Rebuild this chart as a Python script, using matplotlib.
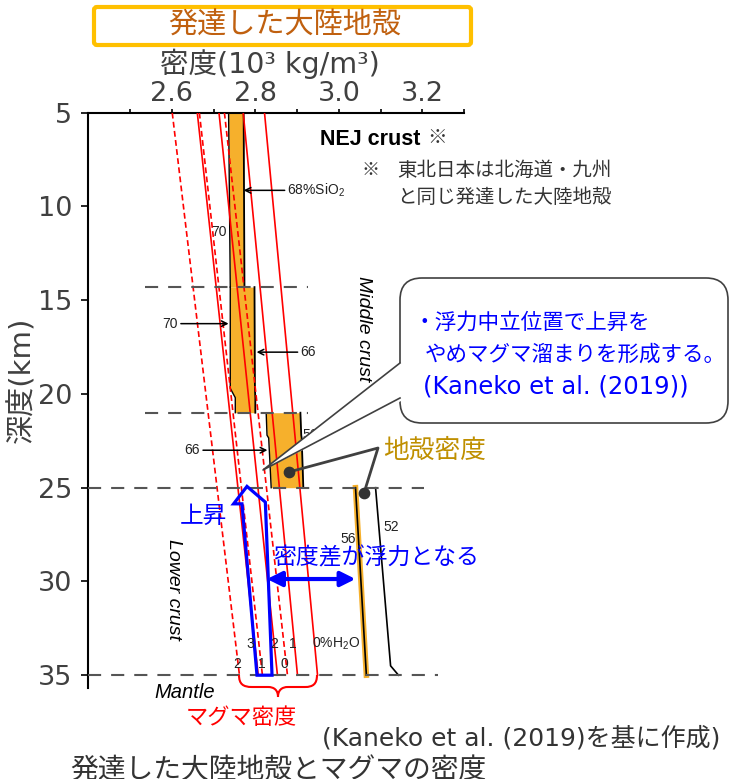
import numpy as np
import matplotlib.pyplot as plt
from matplotlib.patches import Polygon, FancyBboxPatch, PathPatch
from matplotlib.path import Path

JP = 'Noto Sans CJK JP'
ARIAL = 'Liberation Sans'
plt.rcParams['font.family'] = ['DejaVu Sans', JP]
plt.rcParams['mathtext.fontset'] = 'custom'
plt.rcParams['mathtext.rm'] = ARIAL
plt.rcParams['mathtext.it'] = ARIAL + ':italic'

GRAY = '#404040'
RED = '#FF0000'
ORANGE = '#F6B02C'
BLUE = '#0000FF'
TICK_FONTSIZE = 19.5
SMALL = 10

# magma density (10^3 kg/m^3) at 5 km and 35 km
magma_depth = [5, 35]
solid_labels = ['3', '2', '1', '0%H$_2$O']
solid_top = [2.661, 2.713, 2.771, 2.822]
solid_bottom = [2.807, 2.853, 2.901, 2.949]
dashed_labels = ['2', '1', '0']
dashed_top = [2.601, 2.666, 2.726]
dashed_bottom = [2.762, 2.817, 2.877]

# crust density profile
upper_depth = [5.0, 14.3]
upper_left = [2.736, 2.740]
upper_right = [2.772, 2.774]
mid1_depth = [14.3, 19.7, 20.2, 21.0]
mid1_left = [2.740, 2.740, 2.752, 2.752]
mid1_right = [2.798, 2.799, 2.800, 2.800]
mid2_depth = [21.0, 22.2, 22.35, 25.0]
mid2_left = [2.826, 2.828, 2.832, 2.838]
mid2_right = [2.908, 2.910, 2.911, 2.915]
lower_depth = [25.0, 35.0]
lower_density = [3.040, 3.066]
basalt_depth = [25.0, 34.5, 35.0]
basalt_density = [3.088, 3.124, 3.143]

# layer boundaries
boundary_depth = [14.3, 21.0, 25.0, 35.0]
boundary_x0 = [2.536, 2.536, 2.40, 2.40]
boundary_x1 = [2.925, 2.925, 3.203, 3.237]

fig = plt.figure(figsize=(7.30, 7.79), dpi=100)
ax = fig.add_axes([0.121, 0.1164, 0.5147, 0.7389])
ax.set_xlim(2.4, 3.3)
ax.set_ylim(35.7, 5)

# crust columns
for depth, left, right in [(upper_depth, upper_left, upper_right),
                           (mid1_depth, mid1_left, mid1_right),
                           (mid2_depth, mid2_left, mid2_right)]:
    ax.fill_betweenx(depth, left, right, color=ORANGE, lw=0, zorder=1)
    ax.plot(left, depth, color='k', lw=1.0, zorder=2)
    ax.plot(right, depth, color='k', lw=1.3, zorder=2)
ax.plot(lower_density, lower_depth, color=ORANGE, lw=4, zorder=1)
ax.plot(lower_density, lower_depth, color='k', lw=1.2, zorder=2)
ax.plot(basalt_density, basalt_depth, color='k', lw=1.2, zorder=2)

# magma lines
for top, bottom in zip(solid_top, solid_bottom):
    ax.plot([top, bottom], magma_depth, color=RED, lw=1.2, zorder=3)
for top, bottom in zip(dashed_top, dashed_bottom):
    ax.plot([top, bottom], magma_depth, color=RED, lw=1.2, ls=(0, (3.5, 2)), zorder=3)

for d, x0, x1 in zip(boundary_depth, boundary_x0, boundary_x1):
    ax.plot([x0, x1], [d, d], color='#555555', lw=1.5, ls=(0, (6.3, 4.8)),
            zorder=4, clip_on=False)

# labels inside the chart
arrow = dict(arrowstyle='->', color='k', lw=1.1, shrinkA=0, shrinkB=0)
ax.annotate('68%SiO$_2$', xy=(2.772, 9.14), xytext=(2.877, 9.14), ha='left', va='center',
            fontsize=SMALL, family=ARIAL, color='#222222', arrowprops=arrow, zorder=6)
ax.text(2.731, 11.37, '70', ha='right', va='center', fontsize=SMALL, family=ARIAL, color='#222222')
ax.annotate('70', xy=(2.736, 16.25), xytext=(2.615, 16.25), ha='right', va='center',
            fontsize=SMALL, family=ARIAL, color='#222222', arrowprops=arrow)
ax.annotate('66', xy=(2.803, 17.77), xytext=(2.908, 17.77), ha='left', va='center',
            fontsize=SMALL, family=ARIAL, color='#222222', arrowprops=arrow)
ax.annotate('66', xy=(2.829, 23.0), xytext=(2.668, 23.0), ha='right', va='center',
            fontsize=SMALL, family=ARIAL, color='#222222', arrowprops=arrow)
ax.text(2.914, 22.2, '56', ha='left', va='center', fontsize=SMALL, family=ARIAL, color='#222222')
ax.text(3.040, 27.75, '56', ha='right', va='center', fontsize=SMALL, family=ARIAL, color='#222222')
ax.text(3.107, 27.1, '52', ha='left', va='center', fontsize=SMALL, family=ARIAL, color='#222222')

upper_pos = [2.788, 2.844, 2.891, 2.936]
for lab, x in zip(solid_labels, upper_pos):
    ax.text(x, 33.33, lab, ha='left' if 'H' in lab else 'center', va='center',
            fontsize=SMALL, family=ARIAL, color='#222222', zorder=6)
lower_pos = [2.756, 2.816, 2.870]
for lab, x in zip(dashed_labels, lower_pos):
    ax.text(x, 34.4, lab, ha='center', va='center', fontsize=SMALL, family=ARIAL,
            color='#222222', zorder=6)

ax.text(2.956, 6.41, 'NEJ crust', ha='left', va='center', fontsize=15.5,
        fontweight='bold', family=ARIAL)
ax.text(3.059, 16.49, 'Middle crust', ha='center', va='center', rotation=-90,
        fontsize=14, style='italic', family=ARIAL)
ax.text(2.603, 30.4, 'Lower crust', ha='center', va='center', rotation=-90,
        fontsize=14, style='italic', family=ARIAL)
ax.text(2.632, 35.9, 'Mantle', ha='center', va='center', fontsize=14.5,
        style='italic', family=ARIAL, clip_on=False)

# rising magma arrow
rise = [(2.780, 24.93), (2.824, 25.77), (2.840, 35.0), (2.804, 35.0),
        (2.768, 25.86), (2.748, 25.86)]
ax.add_patch(Polygon(rise, closed=True, fill=False, edgecolor=BLUE, lw=2.3,
                     zorder=5, clip_on=False))
ax.text(2.620, 26.55, '上昇', ha='left', va='center', fontsize=17, color=BLUE, family=JP)
ax.annotate('', xy=(3.040, 29.87), xytext=(2.828, 29.87),
            arrowprops=dict(arrowstyle='<|-|>', color=BLUE, lw=3,
                            mutation_scale=22, shrinkA=0, shrinkB=0), zorder=6)
ax.text(2.843, 28.75, '密度差が浮力となる', ha='left', va='center', fontsize=16.5,
        color=BLUE, family=JP, zorder=6)

# axes styling
ax.xaxis.tick_top()
ax.set_xticks([2.6, 2.8, 3.0, 3.2])
ax.set_xticklabels(['2.6', '2.8', '3.0', '3.2'])
ax.set_xticks([2.5, 2.7, 2.9, 3.1, 3.3], minor=True)
ax.tick_params(axis='x', which='both', direction='out', length=3, width=1.2,
               labelsize=TICK_FONTSIZE, labelcolor=GRAY, pad=1)
ax.set_yticks([5, 10, 15, 20, 25, 30, 35])
ax.tick_params(axis='y', direction='out', length=5, width=1.2,
               labelsize=TICK_FONTSIZE, labelcolor=GRAY, pad=6.5)
ax.spines['right'].set_visible(False)
ax.spines['bottom'].set_visible(False)
ax.spines['left'].set_linewidth(1.5)
ax.spines['top'].set_linewidth(1.5)

# overlay in pixel coordinates
ov = fig.add_axes([0, 0, 1, 1], zorder=10)
ov.set_xlim(0, 730)
ov.set_ylim(779, 0)
ov.axis('off')

ov.add_patch(FancyBboxPatch((94, 7), 377, 38, boxstyle='round,pad=0,rounding_size=3',
                            fc='white', ec='#FFC000', lw=3))
ov.text(285, 26, '発達した大陸地殻', ha='center', va='center', fontsize=21,
        color='#C0600F', family=JP)
ov.text(270, 64, '密度(10³ kg/m³)', ha='center', va='center', fontsize=20.5, color=GRAY)
ov.text(22, 380, '深度(km)', ha='center', va='center', rotation=90, fontsize=21, color=GRAY)

ov.text(427, 137, '※', ha='left', va='center', fontsize=14, color='#333333', family=JP)
ov.text(362, 170, '※', ha='left', va='center', fontsize=13, color='#333333', family=JP)
ov.text(397, 170, '東北日本は北海道・九州', ha='left', va='center', fontsize=14,
        color='#333333', family=JP)
ov.text(397, 197, 'と同じ発達した大陸地殻', ha='left', va='center', fontsize=14,
        color='#333333', family=JP)

# speech bubble
ov.add_patch(FancyBboxPatch((400, 278), 328, 145, boxstyle='round,pad=0,rounding_size=22',
                            fc='white', ec=GRAY, lw=1.2))
ov.add_patch(Polygon([(403, 361), (263, 470), (403, 400)], closed=True, fc='white', ec='none'))
ov.plot([400, 263, 400], [363, 470, 398], color=GRAY, lw=1.2)
ov.text(413, 323, '・浮力中立位置で上昇を', ha='left', va='center', fontsize=15.5,
        color=BLUE, family=JP)
ov.text(425, 355, 'やめマグマ溜まりを形成する。', ha='left', va='center', fontsize=15.5,
        color=BLUE, family=JP)
ov.text(423, 386, '(Kaneko et al. (2019))', ha='left', va='center', fontsize=17.5,
        color=BLUE)

# crust density callout
ov.plot([289, 378, 364], [472, 448, 493], color=GRAY, lw=2)
ov.scatter([289, 364], [472, 493], s=55, color='#333333', zorder=5)
ov.text(383, 451, '地殻密度', ha='left', va='center', fontsize=18.5, color='#BF8F00', family=JP)

# magma brace
verts = [(239, 675), (239, 684), (243, 687), (252, 687), (268, 687),
         (274, 687), (278, 690), (278, 697), (278, 690), (282, 687), (288, 687),
         (305, 687), (313, 687), (317, 684), (317, 675)]
codes = [Path.MOVETO, Path.CURVE4, Path.CURVE4, Path.CURVE4, Path.LINETO,
         Path.CURVE4, Path.CURVE4, Path.CURVE4, Path.CURVE4, Path.CURVE4, Path.CURVE4,
         Path.LINETO, Path.CURVE4, Path.CURVE4, Path.CURVE4]
ov.add_patch(PathPatch(Path(verts, codes), fill=False, ec=RED, lw=1.5))
ov.text(241, 718, 'マグマ密度', ha='center', va='center', fontsize=16, color=RED, family=JP)
ov.text(322, 738, '(Kaneko et al. (2019)を基に作成)', ha='left', va='center',
        fontsize=18, color='#333333')
ov.text(70, 756, '発達した大陸地殻とマグマの密度', ha='left', va='top', fontsize=20,
        color='#333333', family=JP)

fig.savefig('out.png', dpi=100)
